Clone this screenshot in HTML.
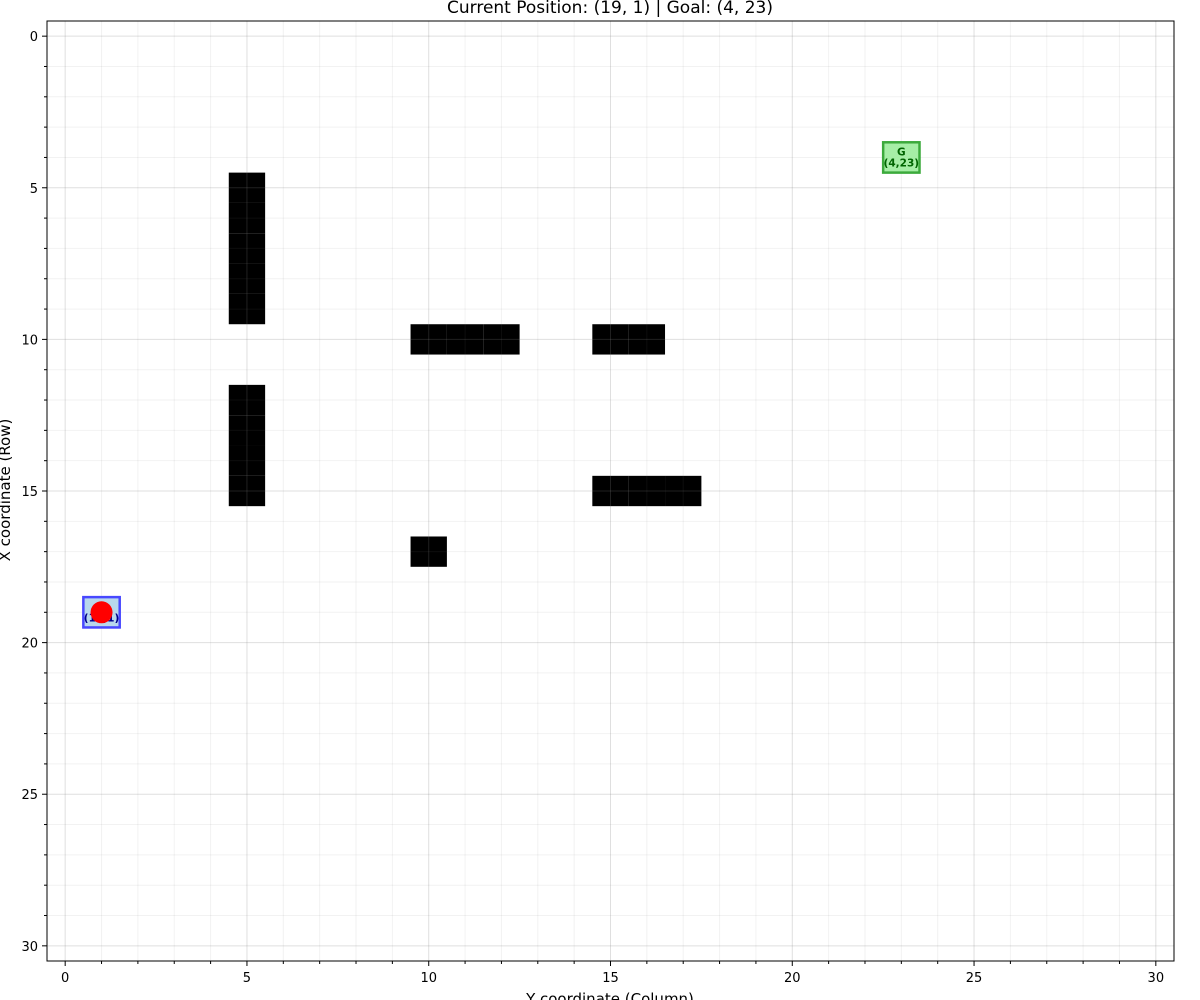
<!DOCTYPE html>
<html><head><meta charset="utf-8"><style>body{margin:0;background:#fff}svg{display:block;font-family:"DejaVu Sans","Liberation Sans",sans-serif}</style></head>
<body>
<svg id="chart" width="1200" height="1000">
<rect width="1200" height="1000" fill="#fff"/>
<g id="cells"></g><g id="grid"></g><g id="marks"></g><g id="axes"></g>
<text x="610" y="13" text-anchor="middle" font-size="17">Current Position: (19, 1) | Goal: (4, 23)</text>
<text x="610" y="1004" text-anchor="middle" font-size="15">Y coordinate (Column)</text>
<text transform="translate(10,490) rotate(-90)" text-anchor="middle" font-size="15">X coordinate (Row)</text>
</svg>
<script>
const obstacleRows=[5,6,7,8,9,12,13,14,15,10,10,10,10,10,15,15,15,17];
const obstacleCols=[5,5,5,5,5,5,5,5,5,10,11,12,15,16,15,16,17,10];
const startPos=[19,1];
const goalPos=[4,23];
const majorTicks=[0,5,10,15,20,25,30];
const NS="http://www.w3.org/2000/svg";
const L=47,R=1174,T=21,B=961;
const xs=c=>L+(c+0.5)*(R-L)/31;
const ys=r=>T+(r+0.5)*(B-T)/31;
const cw=(R-L)/31,ch=(B-T)/31;
function mk(tag,attrs,parent){const e=document.createElementNS(NS,tag);for(const k in attrs)e.setAttribute(k,attrs[k]);parent.appendChild(e);return e;}
const grid=document.getElementById('grid'),cells=document.getElementById('cells'),marks=document.getElementById('marks'),axes=document.getElementById('axes');
obstacleRows.forEach((r,i)=>{
  const c=obstacleCols[i];
  const e=mk('rect',{x:xs(c)-cw/2,y:ys(r)-ch/2,width:cw,height:ch,fill:'#000'},cells);
  
  
});
for(let i=0;i<=30;i++){
  const maj=i%5===0;
  const c=maj?'rgba(128,128,128,0.25)':'rgba(128,128,128,0.1)';
  let v=mk('line',{x1:xs(i),x2:xs(i),y1:T,y2:B,stroke:c,'stroke-width':1},grid);
  
  
  let h=mk('line',{x1:L,x2:R,y1:ys(i),y2:ys(i),stroke:c,'stroke-width':1},grid);
  
  
  mk('line',{x1:xs(i),x2:xs(i),y1:B,y2:B+(maj?5:3),stroke:'#000'},axes);
  mk('line',{x1:L,x2:L-(maj?5:3),y1:ys(i),y2:ys(i),stroke:'#000'},axes);
}
majorTicks.forEach(t=>{
  let a=mk('text',{x:xs(t),y:B+21,'text-anchor':'middle','font-size':13},axes);a.textContent=t;
  
  
  let b=mk('text',{x:L-9,y:ys(t)+5,'text-anchor':'end','font-size':13},axes);b.textContent=t;
  
  
});
let frame=mk('rect',{x:L,y:T,width:R-L,height:B-T,fill:'none',stroke:'#000','stroke-width':1},axes);


function box(pos,fill,stroke,label,tc,name){
  const g=mk('g',{},marks);
  
  
  const x=xs(pos[1]),y=ys(pos[0]);
  mk('rect',{x:x-cw/2,y:y-ch/2,width:cw,height:ch,fill:fill,stroke:stroke,'stroke-width':2.5},g);
  let t1=mk('text',{x:x,y:y-2,'text-anchor':'middle','font-size':10.5,'font-weight':'bold',fill:tc},g);t1.textContent=label;
  let t2=mk('text',{x:x,y:y+9,'text-anchor':'middle','font-size':10.5,'font-weight':'bold',fill:tc},g);t2.textContent='('+pos[0]+','+pos[1]+')';
}
box(goalPos,'#a6eea6','#3caa3c','G','#006400','goal-cell');
box(startPos,'#b8d8ec','#4848ff','S','#00008b','start-cell');
const dot=mk('circle',{cx:xs(startPos[1]),cy:ys(startPos[0]),r:11,fill:'#ff0000'},marks);


</script>
</body></html>
